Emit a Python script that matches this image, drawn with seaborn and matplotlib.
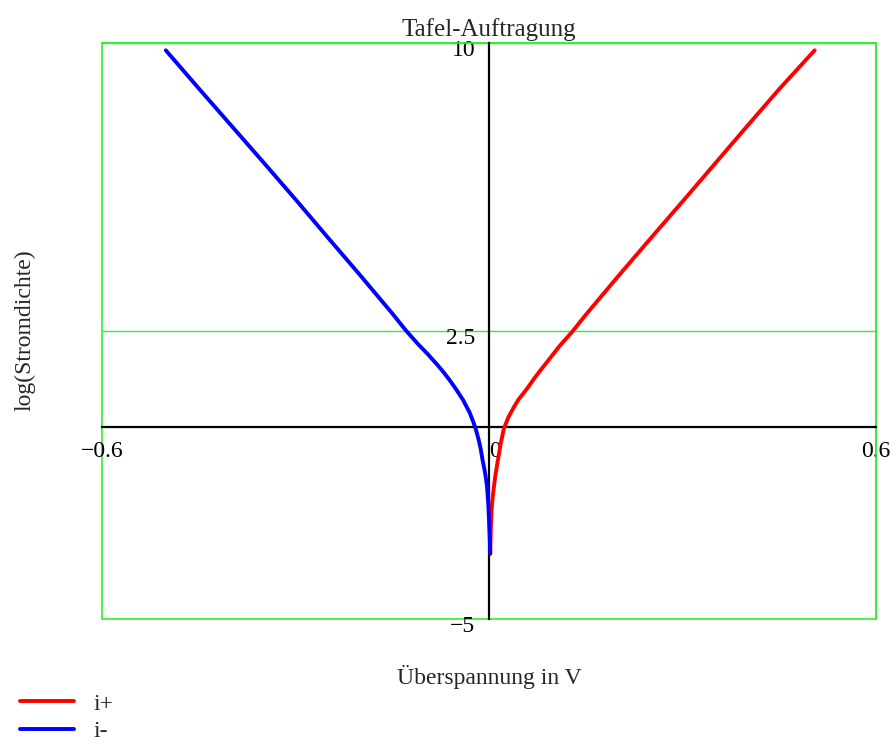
import pandas as pd
import matplotlib as mpl
import matplotlib.pyplot as plt
import matplotlib.transforms as mtransforms
import seaborn as sns
from matplotlib.patches import Rectangle
from matplotlib.lines import Line2D

sns.set_style("white")
mpl.rcParams['font.family'] = ['Liberation Serif', 'DejaVu Serif']
mpl.rcParams['font.size'] = 17

# anodic branch (i+)
eta_plus = [0.002, 0.003, 0.004, 0.005, 0.007, 0.010, 0.014, 0.018, 0.023,
            0.030, 0.038, 0.046, 0.060, 0.070, 0.080, 0.095, 0.110, 0.129,
            0.150, 0.175, 0.200, 0.250, 0.300, 0.350, 0.400, 0.450, 0.505]
log_plus = [-3.30, -2.60, -2.20, -1.95, -1.65, -1.25, -0.85, -0.45, -0.05,
            0.25, 0.50, 0.72, 1.02, 1.26, 1.48, 1.80, 2.12, 2.48,
            2.92, 3.42, 3.92, 4.90, 5.87, 6.85, 7.83, 8.80, 9.81]

# cathodic branch (i-)
eta_minus = [-0.501, -0.450, -0.400, -0.350, -0.300, -0.250, -0.200, -0.175,
             -0.150, -0.129, -0.110, -0.095, -0.080, -0.070, -0.060, -0.050,
             -0.040, -0.030, -0.024, -0.020, -0.016, -0.013, -0.010, -0.007,
             -0.005, -0.003, -0.001, 0.001, 0.002]
log_minus = [9.81, 8.82, 7.86, 6.90, 5.93, 4.94, 3.96, 3.46,
             2.96, 2.52, 2.16, 1.90, 1.62, 1.42, 1.20, 0.96,
             0.70, 0.38, 0.12, -0.08, -0.33, -0.55, -0.85, -1.10,
             -1.30, -1.55, -2.00, -2.80, -3.30]

xticks = [-0.6, 0, 0.6]
xticklabels = ["\u22120.6", "0", "0.6"]
yticks = [-5, 2.5, 10]
yticklabels = ["\u22125", "2.5", "10"]

df = pd.concat([
    pd.DataFrame({"eta": eta_plus, "logi": log_plus, "branch": "i+"}),
    pd.DataFrame({"eta": eta_minus, "logi": log_minus, "branch": "i-"}),
], ignore_index=True)

green = "#33ee33"
colors = {"i+": "#ff0000", "i-": "#0000ff"}

fig = plt.figure(figsize=(8.96, 7.46), dpi=100)
ax = fig.add_axes([0.1138, 0.1702, 0.8638, 0.7721])

sns.lineplot(data=df, x="eta", y="logi", hue="branch", palette=colors,
             sort=False, estimator=None, lw=2.8, legend=False, zorder=4, ax=ax)
for line in ax.get_lines():
    line.set_solid_joinstyle("round")
    line.set_solid_capstyle("round")

ax.set_xlim(-0.6, 0.6)
ax.set_ylim(-5, 10)
ax.set_xlabel("")
ax.set_ylabel("")

# green frame + grid line
ax.yaxis.grid(True, color=green, lw=1)
ax.set_axisbelow(True)
ax.add_patch(Rectangle((0, 0), 1, 1, transform=ax.transAxes, fill=False,
                       ec=green, lw=1.2, clip_on=False, zorder=0.5))
for s in ["top", "right"]:
    ax.spines[s].set_color(green)
    ax.spines[s].set_linewidth(1.2)

# black crossing axes
ax.spines["left"].set_position(("data", 0))
ax.spines["bottom"].set_position(("data", 0))
for s in ["left", "bottom"]:
    ax.spines[s].set_color("black")
    ax.spines[s].set_linewidth(1.6)
    ax.spines[s].set_zorder(3)

ax.set_xticks(xticks)
ax.set_xticklabels(xticklabels)
ax.set_yticks(yticks)
ax.set_yticklabels(yticklabels)
ax.tick_params(direction="inout", length=16, width=1.6, colors="black",
               labelsize=17, pad=2)
ax.get_xticklabels()[1].set_ha("left")
shift = mtransforms.ScaledTranslation(0, -5 / 100, fig.dpi_scale_trans)
for lab in ax.get_yticklabels():
    lab.set_transform(lab.get_transform() + shift)

fig.text(0.5458, 1 - 30 / 746, "Tafel-Auftragung", ha="center", va="center", fontsize=18)
fig.text(0.5458, 1 - 677 / 746, "\u00dcberspannung in V", ha="center", va="center", fontsize=17)
fig.text(25 / 896, 1 - 330 / 746, "log(Stromdichte)", ha="center", va="center",
         rotation=90, fontsize=17)

handles = [Line2D([], [], color=colors[k], lw=2.8) for k in ["i+", "i-"]]
fig.legend(handles, ["i+", "i-"], loc="upper left",
           bbox_to_anchor=(20 / 896, 1 - 693 / 746), frameon=False,
           borderaxespad=0, borderpad=0, handlelength=2.3, handletextpad=0.8,
           labelspacing=0.25, fontsize=17)

plt.savefig("out.png", dpi=100)
plt.close()
